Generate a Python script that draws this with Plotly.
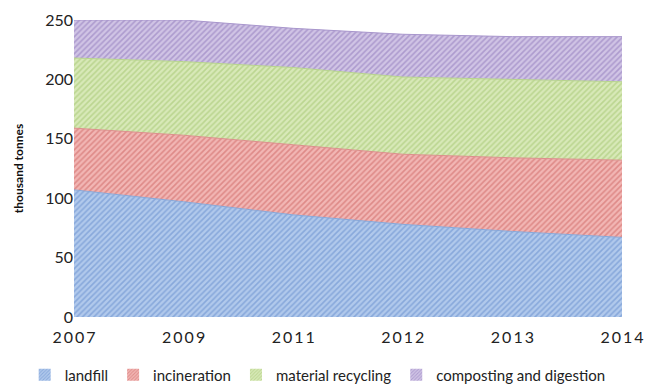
import plotly.graph_objects as go

years = ["2007", "2009", "2011", "2012", "2013", "2014"]
landfill = [107, 97, 86, 78, 72, 67]
incineration = [52, 56, 59, 59, 62, 65]
material_recycling = [59, 62, 65, 65, 66, 66]
composting = [32, 35, 33, 36, 36, 38]

series = [
    ("landfill", landfill, "#b1c9ec", "#5f88c9", "#86a8da"),
    ("incineration", incineration, "#f2b6b4", "#c95e5c", "#dc8e8c"),
    ("material recycling", material_recycling, "#d8e9b8", "#9dc267", "#b7d48d"),
    ("composting and digestion", composting, "#d0c4e5", "#8a72b8", "#a896cc"),
]

fig = go.Figure()
xs = list(range(len(years)))
for name, vals, bg, fg, edge in series:
    fig.add_trace(go.Scatter(
        x=xs, y=vals, name=name, showlegend=False,
        mode="lines", stackgroup="one",
        line=dict(color=edge, width=1),
        fillcolor=bg,
        fillpattern=dict(shape="/", bgcolor=bg, fgcolor=fg, size=4, solidity=0.4),
    ))

# legend swatches: small hatched squares
for name, vals, bg, fg, edge in series:
    fig.add_trace(go.Bar(
        x=[None], y=[None], name=name, showlegend=True,
        marker=dict(color=bg, line=dict(width=0),
                    pattern=dict(shape="/", bgcolor=bg, fgcolor=fg, size=3, solidity=0.4)),
    ))

spaced = ["\u2009".join(y) for y in years]

fig.update_layout(
    width=646, height=385,
    margin=dict(l=74, r=24, t=20, b=68, autoexpand=False),
    paper_bgcolor="white", plot_bgcolor="white",
    font=dict(family="Lato, Open Sans, sans-serif", color="#222"),
    showlegend=True,
    legend=dict(orientation="h", traceorder="normal", x=-0.09, xanchor="left",
                y=-0.14, yanchor="top", font=dict(size=15, color="#222"),
                itemwidth=30, tracegroupgap=0),
    xaxis=dict(range=[0, 5], tickvals=xs, ticktext=spaced,
               showgrid=False, zeroline=False, showline=False, ticks="",
               ticklabelstandoff=9, tickfont=dict(size=16, color="#222")),
    yaxis=dict(range=[0, 250], dtick=50, showgrid=True, gridcolor="#d9d9d9",
               zeroline=False, showline=False, ticks="",
               tickfont=dict(size=16, color="#222"),
               title=dict(text="<b>thousand tonnes</b>", font=dict(size=12, color="#111"),
                          standoff=18)),
)

fig.write_html("out.html")
